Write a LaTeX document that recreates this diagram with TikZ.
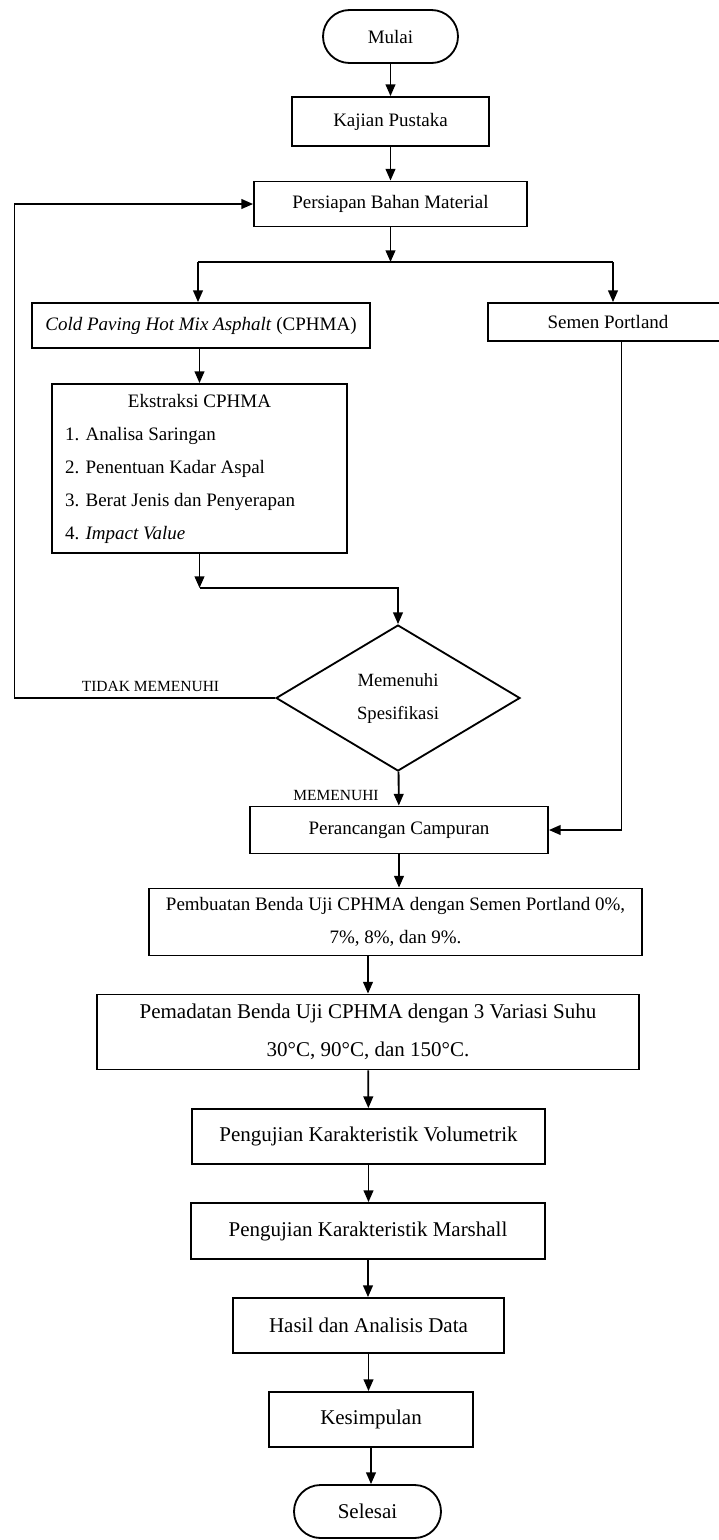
\documentclass[tikz,border=0pt]{standalone}
\usepackage{fontspec}
\setmainfont{Liberation Serif}
\usepackage{tikz}
\usetikzlibrary{arrows.meta}
\usetikzlibrary{shapes.geometric}
\tikzset{proses/.style = {draw, line width = 1.1pt, inner sep = 0, align = center, font = \fontsize{11.4}{19.8}\selectfont}}
\tikzset{prosesb/.style = {proses, font = \fontsize{12.6}{22.8}\selectfont}}
\tikzset{terminal/.style = {proses, rounded corners = 15.9pt}}
\tikzset{keputusan/.style = {draw, diamond, line width = 1.1pt, inner sep = 0, align = center, font = \fontsize{11.2}{19.8}\selectfont}}
\tikzset{panah/.style = {-{Triangle[length = 7pt, width = 5.8pt]}, line width = 1.1pt}}
\tikzset{garis/.style = {line width = 1.1pt}}
\tikzset{ket/.style = {inner sep = 0, font = \fontsize{9.3}{11}\selectfont}}
\newcommand{\butir}[1]{\makebox[161.4pt][l]{#1}}

\begin{document}
\begin{tikzpicture}[x = 0.6pt, y = -0.6pt]
          \useasboundingbox (0, 0) rectangle (719, 1540);

          \node [terminal, minimum width = 81pt, minimum height = 31.8pt] (mulai) at (390.5, 36.5) {Mulai};
          \node [proses, minimum width = 118.2pt, minimum height = 29.4pt] (kajian) at (390.5, 121.5) {Kajian Pustaka};
          \node [proses, minimum width = 163.8pt, minimum height = 27pt] (persiapan) at (390.5, 204) {Persiapan Bahan Material};
          \node [proses, minimum width = 202.8pt, minimum height = 27pt] (cphma) at (201, 325.5) {\textit{Cold Paving Hot Mix Asphalt} (CPHMA)};
          \node [proses, minimum width = 144pt, minimum height = 22.8pt] (semen) at (608, 322) {Semen Portland};
          \node [proses, minimum width = 177pt, minimum height = 101.4pt] (ekstraksi) at (199.5, 468.5) {Ekstraksi CPHMA\\
            \butir{1. Analisa Saringan}\\
            \butir{2. Penentuan Kadar Aspal}\\
            \butir{3. Berat Jenis dan Penyerapan}\\
            \butir{4. \textit{Impact Value}}};
          \node [keputusan, minimum width = 146.4pt, minimum height = 87.6pt] (spek) at (398, 698) {Memenuhi\\ Spesifikasi};
          \node [proses, minimum width = 178.8pt, minimum height = 28.2pt] (rancang) at (399, 830) {Perancangan Campuran};
          \node [proses, minimum width = 295.8pt, minimum height = 40.2pt] (buat) at (395.5, 922) {Pembuatan Benda Uji CPHMA dengan Semen Portland 0\%,\\ 7\%, 8\%, dan 9\%.};
          \node [prosesb, minimum width = 325.2pt, minimum height = 45pt] (padat) at (368, 1032) {Pemadatan Benda Uji CPHMA dengan 3 Variasi Suhu\\ 30°C, 90°C, dan 150°C.};
          \node [prosesb, minimum width = 211.8pt, minimum height = 33pt] (volum) at (368.5, 1136.5) {Pengujian Karakteristik Volumetrik};
          \node [prosesb, minimum width = 212.4pt, minimum height = 33.6pt] (marshall) at (368, 1231) {Pengujian Karakteristik Marshall};
          \node [prosesb, minimum width = 162.6pt, minimum height = 33pt] (hasil) at (368.5, 1325.5) {Hasil dan Analisis Data};
          \node [prosesb, minimum width = 122.4pt, minimum height = 33pt] (simpul) at (371, 1419.5) {Kesimpulan};
          \node [terminal, prosesb, minimum width = 88.2pt, minimum height = 31.8pt] (selesai) at (367.5, 1511.5) {Selesai};

          \node [ket] (tidak) at (150.5, 686) {TIDAK MEMENUHI};
          \node [ket] (ya) at (336, 795) {MEMENUHI};

          \coordinate (cabang) at (390.5, 262);
          \coordinate (kiri) at (198, 262);
          \coordinate (kanan) at (613, 262);
          \coordinate (belok) at (199.5, 588);
          \coordinate (balik) at (14.5, 698);
          \coordinate (sp) at (621.5, 341);

          \draw [panah] (mulai) -- (kajian);
          \draw [panah] (kajian) -- (persiapan);
          \draw [panah] (persiapan) -- (cabang);
          \draw [garis] (kiri) -- (kanan);
          \draw [panah] (kiri) -- (kiri |- cphma.north);
          \draw [panah] (kanan) -- (kanan |- semen.north);
          \draw [panah] (ekstraksi.north |- cphma.south) -- (ekstraksi.north);
          \draw [panah] (ekstraksi) -- (belok);
          \draw [panah] (belok) -| (spek.north);
          \draw [panah] (spek.west) -- (balik) |- (persiapan.west);
          \draw [panah] (spek) -- (rancang);
          \draw [panah] (sp) |- (rancang.east);
          \draw [panah] (rancang.south) -- (rancang.south |- buat.north);
          \draw [panah] (padat.north |- buat.south) -- (padat.north);
          \draw [panah] (padat) -- (volum);
          \draw [panah] (volum.south) -- (volum.south |- marshall.north);
          \draw [panah] (marshall.south) -- (marshall.south |- hasil.north);
          \draw [panah] (hasil.south) -- (hasil.south |- simpul.north);
          \draw [panah] (simpul.south) -- (simpul.south |- selesai.north);
        \end{tikzpicture}
\end{document}
